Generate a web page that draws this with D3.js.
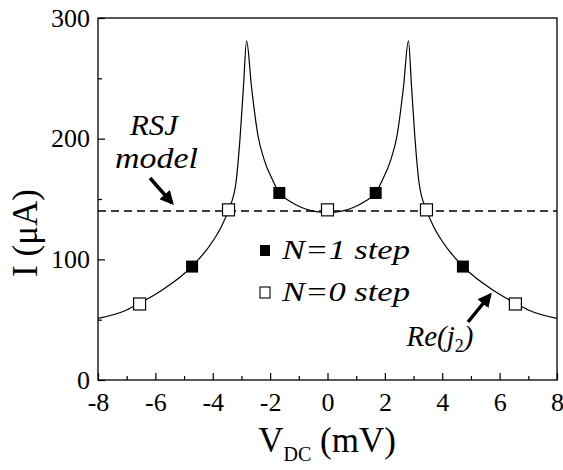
<!DOCTYPE html>
<html>
<head>
<meta charset="utf-8">
<script src="https://cdn.jsdelivr.net/npm/d3@7"></script>
<style>
  body { margin: 0; background: #fff; }
  svg text { font-family: "Liberation Serif", "Times New Roman", "DejaVu Serif", serif !important; fill: #000; }
</style>
</head>
<body>
<div id="chart"></div>
<script>
// curve Re(j2) (V in mV, I in uA)
const curveV = [-8, -7, -6.6, -5.8, -5, -4.73, -4, -3.7, -3.45, -3.2, -3.05, -2.93, -2.82, -2.65, -2.42, -2.2, -1.9, -1.68, -1.3, -0.9, -0.5, 0,
                 0.5, 0.9, 1.3, 1.68, 1.9, 2.2, 2.42, 2.65, 2.82, 2.93, 3.05, 3.2, 3.45, 3.7, 4, 4.73, 5, 5.8, 6.6, 7, 8];
const curveI = [51, 58, 63, 74, 88, 94, 115, 127, 141, 162, 200, 243, 281, 243, 202, 182, 165, 155, 148, 143, 140, 139,
                140, 143, 148, 155, 165, 182, 202, 243, 281, 243, 200, 162, 141, 127, 115, 94, 88, 74, 63, 58, 51];

// N=1 step (filled squares)
const n1V = [-4.72, -1.68, 1.68, 4.72];
const n1I = [94, 155, 155, 94];
// N=0 step (open squares)
const n0V = [-6.55, -3.45, 0, 3.45, 6.55];
const n0I = [63, 141, 141, 141, 63];

const rsjLevel = 140;

const xTicks = [-8, -6, -4, -2, 0, 2, 4, 6, 8];
const yTicks = [0, 100, 200, 300];

const width = 563, height = 470;
const svg = d3.select("#chart").append("svg")
    .attr("width", width)
    .attr("height", height);

const x = d3.scaleLinear().domain([-8, 8]).range([98, 557]);
const y = d3.scaleLinear().domain([0, 300]).range([380, 18]);

// frame
svg.append("rect")
    .attr("x", x(-8)).attr("y", y(300))
    .attr("width", x(8) - x(-8)).attr("height", y(0) - y(300))
    .attr("fill", "none").attr("stroke", "#000").attr("stroke-width", 1.3);

// axes
const xAxis = svg.append("g")
    .attr("transform", `translate(0,${y(0)})`)
    .call(d3.axisBottom(x).tickValues(xTicks).tickSizeInner(-7).tickSizeOuter(0).tickPadding(13)
        .tickFormat(d3.format("d")));
svg.append("g")
    .attr("transform", `translate(0,${y(0)})`)
    .call(d3.axisBottom(x).tickValues(d3.range(-7, 8, 2)).tickSize(-4).tickFormat(""));

const yAxis = svg.append("g")
    .attr("transform", `translate(${x(-8)},0)`)
    .call(d3.axisLeft(y).tickValues(yTicks).tickSizeInner(-7).tickSizeOuter(0).tickPadding(8));
svg.append("g")
    .attr("transform", `translate(${x(-8)},0)`)
    .call(d3.axisLeft(y).tickValues([50, 150, 250]).tickSize(-4).tickFormat(""));

svg.selectAll(".domain").remove();
svg.selectAll(".tick line").attr("stroke", "#000").attr("stroke-width", 1.2);
svg.selectAll(".tick text")
    .attr("font-size", 26);
xAxis.selectAll(".tick text").text(d => d < 0 ? "-" + Math.abs(d) : d);

// axis titles
svg.append("text")
    .attr("transform", "translate(37,233) rotate(-90)")
    .attr("text-anchor", "middle")
    .attr("font-size", 35)
    .text("I (μA)");

const xt = svg.append("text")
    .attr("x", 327)
    .attr("y", 452)
    .attr("text-anchor", "middle")
    .attr("font-size", 35);
xt.append("tspan").text("V");
xt.append("tspan").attr("font-size", 20).attr("dy", 9).text("DC");
xt.append("tspan").attr("dy", -9).text(" (mV)");

// RSJ model dashed line
svg.append("line")
    .attr("x1", x(-8)).attr("x2", x(8))
    .attr("y1", y(rsjLevel)).attr("y2", y(rsjLevel))
    .attr("stroke", "#000").attr("stroke-width", 1.5)
    .attr("stroke-dasharray", "8,5");

// Re(j2) curve
const pts = curveV.map((v, i) => [v, curveI[i]]);
svg.append("path")
    .datum(pts)
    .attr("fill", "none")
    .attr("stroke", "#000")
    .attr("stroke-width", 1.2)
    .attr("d", d3.line().x(d => x(d[0])).y(d => y(d[1])).curve(d3.curveMonotoneX));

// markers
const sq = 12;
svg.selectAll(".n1")
    .data(n1V.map((v, i) => [v, n1I[i]]))
    .join("rect")
    .attr("class", "n1")
    .attr("x", d => x(d[0]) - sq / 2).attr("y", d => y(d[1]) - sq / 2)
    .attr("width", sq).attr("height", sq)
    .attr("fill", "#000");

svg.selectAll(".n0")
    .data(n0V.map((v, i) => [v, n0I[i]]))
    .join("rect")
    .attr("class", "n0")
    .attr("x", d => x(d[0]) - sq / 2).attr("y", d => y(d[1]) - sq / 2)
    .attr("width", sq).attr("height", sq)
    .attr("fill", "#fff").attr("stroke", "#000").attr("stroke-width", 1.2);

// legend
const lg = svg.append("g");
lg.append("rect").attr("x", 260).attr("y", 245).attr("width", 10).attr("height", 11).attr("fill", "#000");
lg.append("text").attr("x", 282).attr("y", 259).attr("font-size", 27).attr("font-style", "italic")
    .attr("textLength", 128).attr("lengthAdjust", "spacingAndGlyphs").text("N=1 step");
lg.append("rect").attr("x", 260).attr("y", 287).attr("width", 10).attr("height", 11)
    .attr("fill", "#fff").attr("stroke", "#000").attr("stroke-width", 1.1);
lg.append("text").attr("x", 282).attr("y", 301).attr("font-size", 27).attr("font-style", "italic")
    .attr("textLength", 128).attr("lengthAdjust", "spacingAndGlyphs").text("N=0 step");

// annotations
const ann = svg.append("g").attr("font-style", "italic").attr("font-size", 29);
ann.append("text").attr("x", 130).attr("y", 135)
    .attr("textLength", 48).attr("lengthAdjust", "spacingAndGlyphs").text("RSJ");
ann.append("text").attr("x", 115).attr("y", 168)
    .attr("textLength", 83).attr("lengthAdjust", "spacingAndGlyphs").text("model");

const re = svg.append("text").attr("x", 440).attr("y", 346)
    .attr("font-style", "italic").attr("font-size", 29).attr("text-anchor", "middle");
re.append("tspan").text("Re(j");
re.append("tspan").attr("font-size", 18).attr("font-style", "normal").attr("dy", 6).text("2");
re.append("tspan").attr("dy", -6).text(")");

svg.append("defs").append("marker")
    .attr("id", "head")
    .attr("viewBox", "0 0 10 10")
    .attr("refX", 8).attr("refY", 5)
    .attr("markerWidth", 4).attr("markerHeight", 4)
    .attr("orient", "auto")
    .append("path").attr("d", "M0,0 L10,5 L0,10 z").attr("fill", "#000");

svg.append("line")
    .attr("x1", 150).attr("y1", 178).attr("x2", 172).attr("y2", 203)
    .attr("stroke", "#000").attr("stroke-width", 3.5).attr("marker-end", "url(#head)");
svg.append("line")
    .attr("x1", 468).attr("y1", 322).attr("x2", 490).attr("y2", 295)
    .attr("stroke", "#000").attr("stroke-width", 3.5).attr("marker-end", "url(#head)");
</script>
</body>
</html>
